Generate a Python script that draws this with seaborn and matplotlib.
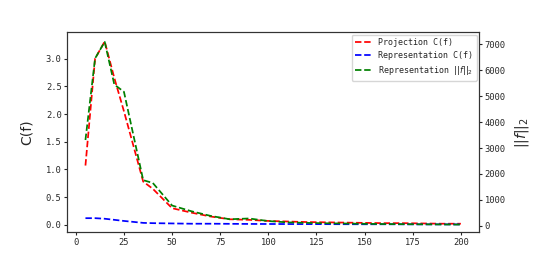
import matplotlib
matplotlib.use("Agg")
import matplotlib.pyplot as plt
import seaborn as sns
import pandas as pd

# sample sizes on the x axis
sizes = [5, 10, 15, 20, 25, 35, 40, 50, 60, 70, 80, 90, 100, 110, 120,
         130, 140, 150, 160, 170, 180, 190, 200]

# projection C(f), left axis
proj_c = [1.07, 3.0, 3.31, 2.65, 2.05, 0.78, 0.65, 0.30, 0.22, 0.15, 0.10,
          0.09, 0.07, 0.06, 0.05, 0.045, 0.04, 0.035, 0.03, 0.03, 0.025,
          0.02, 0.02]

# representation C(f), left axis
repr_c = [0.12, 0.12, 0.11, 0.09, 0.07, 0.035, 0.03, 0.025, 0.02, 0.02,
          0.018, 0.016, 0.015, 0.014, 0.013, 0.012, 0.011, 0.01, 0.01,
          0.009, 0.008, 0.008, 0.007]

# representation ||f||_2, right axis
repr_norm = [3310, 6460, 7100, 5450, 5170, 1760, 1650, 780, 560, 380, 250,
             280, 180, 130, 110, 95, 85, 75, 65, 60, 55, 50, 45]

df = pd.DataFrame({"n": sizes, "proj": proj_c, "repr": repr_c, "norm": repr_norm})

sns.set_style("ticks")
plt.rcParams["font.family"] = ["DejaVu Sans Mono", "DejaVu Sans"]

fig, ax1 = plt.subplots(figsize=(5.33, 2.67), dpi=100)
fig.subplots_adjust(left=0.126, right=0.899, bottom=0.131, top=0.880)
ax2 = ax1.twinx()

lw = 1.25
sns.lineplot(x="n", y="proj", data=df, color="r", linestyle="--", lw=lw,
             label="Projection C(f)", ax=ax1, legend=False)
sns.lineplot(x="n", y="repr", data=df, color="b", linestyle="--", lw=lw,
             label="Representation C(f)", ax=ax1, legend=False)
sns.lineplot(x="n", y="norm", data=df, color="g", linestyle="--", lw=lw,
             label=r"Representation $||f||_2$", ax=ax2, legend=False)

ax1.set_xlim(-4.5, 209.5)
ax1.set_ylim(-0.13, 3.48)
ax2.set_ylim(-243, 7478)
ax1.set_xticks(range(0, 201, 25))
ax1.set_yticks([0.0, 0.5, 1.0, 1.5, 2.0, 2.5, 3.0])
ax2.set_yticks(range(0, 7001, 1000))

ax1.set_xlabel("")
ax1.set_ylabel("C(f)", fontsize=10, family="DejaVu Sans", labelpad=9)
ax2.set_ylabel(r"$||f||_2$", fontsize=10, labelpad=5)

for ax in (ax1, ax2):
    ax.tick_params(labelsize=6.3, length=2, width=0.8, pad=2)
    for s in ax.spines.values():
        s.set_linewidth(0.8)
        s.set_color("#333333")

h1, l1 = ax1.get_legend_handles_labels()
h2, l2 = ax2.get_legend_handles_labels()
ax2.legend(h1 + h2, l1 + l2, loc="upper right", fontsize=6,
           frameon=True, borderaxespad=0.3)

fig.savefig("out.png", dpi=100)
